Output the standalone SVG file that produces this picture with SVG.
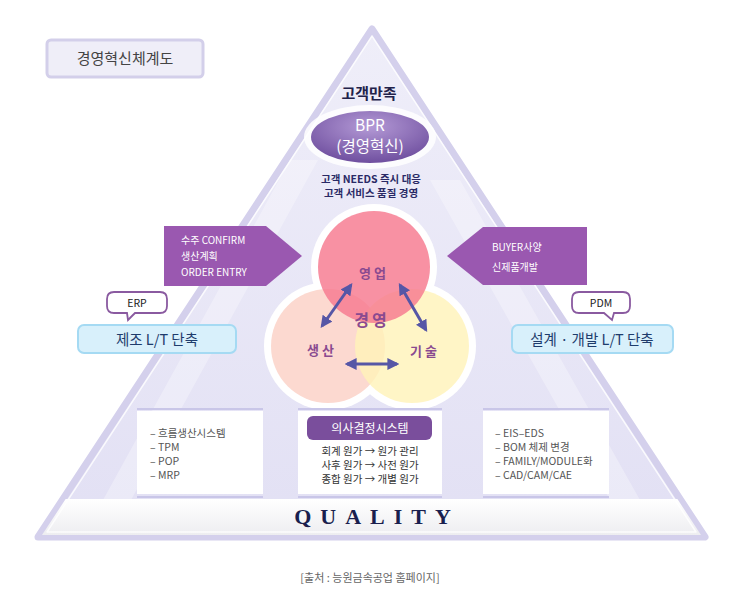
<svg xmlns="http://www.w3.org/2000/svg" width="740" height="591" viewBox="0 0 740 591">
<defs>
<linearGradient id="triG" x1="0" y1="0" x2="0" y2="1">
<stop offset="0" stop-color="#efeef9"/>
<stop offset="1" stop-color="#e2e0f4"/>
</linearGradient>
<linearGradient id="bandG" x1="0" y1="0" x2="0" y2="1">
<stop offset="0" stop-color="#ffffff"/>
<stop offset="1" stop-color="#ebebef"/>
</linearGradient>
<radialGradient id="bprG" cx="0.5" cy="0.3" r="0.7">
<stop offset="0" stop-color="#b49ad6"/>
<stop offset="1" stop-color="#6f4f9f"/>
</radialGradient>
<clipPath id="triClip">
<path d="M372,33 L701,535 L42,535 Z"/>
</clipPath>
<marker id="ah" viewBox="0 0 10 10" refX="8" refY="5" markerWidth="4" markerHeight="4" orient="auto-start-reverse">
<path d="M0,0 L10,5 L0,10 z" fill="#5656a6"/>
</marker>
<style>
.ko{font-family:"Noto Sans CJK KR","Liberation Sans",sans-serif}
.w{fill:#fff;font-size:10px}
.lst{fill:#555;font-size:10.5px}
.mid{fill:#333;font-size:10.5px;text-anchor:middle}
.circ{fill:#8a4a90;font-size:13px;font-weight:bold;text-anchor:middle;letter-spacing:3px}
.arr{stroke:#5656a6;stroke-width:3;fill:none;marker-start:url(#ah);marker-end:url(#ah)}
.bub{fill:#fff;stroke:#8a5aa0;stroke-width:1.8}
.lt{fill:#d8f0fb;stroke:#a5daf3;stroke-width:2}
.sep{stroke:#c9c6e8;stroke-width:2}
</style>
</defs>

<g id="pyramid">
<path d="M372,29 L705,537 L38,537 Z" fill="url(#triG)" stroke="#d4d0ec" stroke-width="7" stroke-linejoin="round"/>
<g clip-path="url(#triClip)">
<path d="M290,160 L318,160 L120,520 L92,520 Z" fill="#ffffff" opacity="0.3"/>
<path d="M430,180 L460,180 L640,500 L610,500 Z" fill="#ffffff" opacity="0.3"/>
<rect x="30" y="499" width="690" height="40" fill="url(#bandG)"/>
</g>
<path d="M372,36 L696,532 L47,532 Z" fill="none" stroke="#ffffff" stroke-width="1.5" stroke-linejoin="round" opacity="0.8"/>
</g>

<g id="title">
<rect x="47" y="40" width="156" height="37" rx="4" fill="#efeef8" stroke="#d3cfea" stroke-width="3"/>
<text x="125" y="64" class="ko" font-size="15" fill="#444" text-anchor="middle">경영혁신체계도</text>
</g>

<g id="customer">
<text x="369" y="99" class="ko" font-size="15" font-weight="bold" fill="#22224a" text-anchor="middle">고객만족</text>
</g>

<g id="bpr">
<ellipse cx="370" cy="137" rx="66" ry="32" fill="#ffffff" opacity="0.85"/>
<ellipse cx="370" cy="137" rx="59" ry="26" fill="url(#bprG)"/>
<text class="ko" font-size="15.5" fill="#fff" text-anchor="middle"><tspan x="370" y="131">BPR</tspan><tspan x="370" y="152">(경영혁신)</tspan></text>
</g>

<g id="needs">
<text class="ko" font-size="10.5" font-weight="bold" fill="#2a2a66" text-anchor="middle"><tspan x="371" y="183">고객 NEEDS 즉시 대응</tspan><tspan x="371" y="197">고객 서비스 품질 경영</tspan></text>
</g>

<g id="order">
<path d="M164,226 L266,226 L302,256 L266,286 L164,286 Z" fill="#9a58b0"/>
<text class="ko w"><tspan x="181" y="244">수주 CONFIRM</tspan><tspan x="181" y="260">생산계획</tspan><tspan x="181" y="276">ORDER ENTRY</tspan></text>
</g>

<g id="buyer">
<path d="M587,227 L483,227 L447,256 L483,285 L587,285 Z" fill="#9a58b0"/>
<text class="ko w"><tspan x="492" y="251">BUYER사양</tspan><tspan x="492" y="271">신제품개발</tspan></text>
</g>

<g id="circles">
<circle cx="374" cy="267" r="63" fill="#fff"/>
<circle cx="328" cy="346" r="64" fill="#fff"/>
<circle cx="412" cy="346" r="64" fill="#fff"/>
<circle cx="328" cy="346" r="57" fill="#fcd9d0"/>
<circle cx="412" cy="346" r="57" fill="#fff2b8" opacity="0.8"/>
<circle cx="374" cy="267" r="56" fill="#f7798f" opacity="0.82"/>
</g>

<g id="sales"><text x="374" y="278" class="ko circ">영업</text></g>
<g id="management"><text x="372" y="326" class="ko circ" style="font-size:16px">경영</text></g>
<g id="production"><text x="322" y="355" class="ko circ">생산</text></g>
<g id="tech"><text x="425" y="356" class="ko circ">기술</text></g>

<g id="connectors">
<line x1="351" y1="285" x2="322" y2="326" class="arr"/>
<line x1="400" y1="285" x2="426" y2="330" class="arr"/>
<line x1="347" y1="364" x2="397" y2="364" class="arr"/>
</g>

<g id="erp">
<path d="M114,292 L160,292 Q167,292 167,299 L167,306 Q167,313 160,313 L135,313 L128,320 L127,313 L114,313 Q107,313 107,306 L107,299 Q107,292 114,292 Z" class="bub"/>
<text x="137" y="307" class="ko" font-size="10.5" fill="#222" text-anchor="middle">ERP</text>
</g>
<g id="mfg">
<rect x="78" y="325" width="158" height="28" rx="6" class="lt"/>
<text x="157" y="345" class="ko" font-size="14.5" fill="#1e3c6c" text-anchor="middle">제조 L/T 단축</text>
</g>

<g id="pdm">
<path d="M579,292 L623,292 Q630,292 630,299 L630,306 Q630,313 623,313 L614,313 L612,320 L604,313 L579,313 Q572,313 572,306 L572,299 Q572,292 579,292 Z" class="bub"/>
<text x="601" y="307" class="ko" font-size="10.5" fill="#222" text-anchor="middle">PDM</text>
</g>
<g id="design">
<rect x="512" y="325" width="161" height="28" rx="6" class="lt"/>
<text x="592" y="345" class="ko" font-size="14.5" fill="#1e3c6c" text-anchor="middle">설계 · 개발 L/T 단축</text>
</g>

<g id="box-left">
<line x1="137" y1="409" x2="263" y2="409" class="sep"/>
<rect x="137" y="411" width="126" height="83" fill="#fff"/>
<line x1="137" y1="497" x2="263" y2="497" class="sep"/>
<text class="ko lst"><tspan x="150" y="437">– 흐름생산시스템</tspan><tspan x="150" y="451">– TPM</tspan><tspan x="150" y="465">– POP</tspan><tspan x="150" y="479">– MRP</tspan></text>
</g>

<g id="box-mid">
<line x1="298" y1="409" x2="442" y2="409" class="sep"/>
<rect x="298" y="411" width="144" height="83" fill="#fff"/>
<line x1="298" y1="497" x2="442" y2="497" class="sep"/>
<rect x="307" y="416" width="125" height="24" rx="6" fill="#7a4e9c"/>
<text x="370" y="433" class="ko" font-size="12" fill="#fff" text-anchor="middle">의사결정시스템</text>
<text class="ko mid"><tspan x="370" y="455">회계 원가 → 원가 관리</tspan><tspan x="370" y="469">사후 원가 → 사전 원가</tspan><tspan x="370" y="483">종합 원가 → 개별 원가</tspan></text>
</g>

<g id="box-right">
<line x1="483" y1="409" x2="609" y2="409" class="sep"/>
<rect x="483" y="411" width="126" height="83" fill="#fff"/>
<line x1="483" y1="497" x2="609" y2="497" class="sep"/>
<text class="ko lst"><tspan x="495" y="437">– EIS–EDS</tspan><tspan x="495" y="451">– BOM 체제 변경</tspan><tspan x="495" y="465">– FAMILY/MODULE화</tspan><tspan x="495" y="479">– CAD/CAM/CAE</tspan></text>
</g>

<g id="quality">
<text x="377" y="524" font-family="Liberation Serif,serif" font-size="22" font-weight="bold" fill="#1a1f4e" text-anchor="middle" letter-spacing="9">QUALITY</text>
</g>

<g id="source">
<text x="370" y="582" class="ko" font-size="11" fill="#666" text-anchor="middle">[출처 : 능원금속공업 홈페이지]</text>
</g>
</svg>
